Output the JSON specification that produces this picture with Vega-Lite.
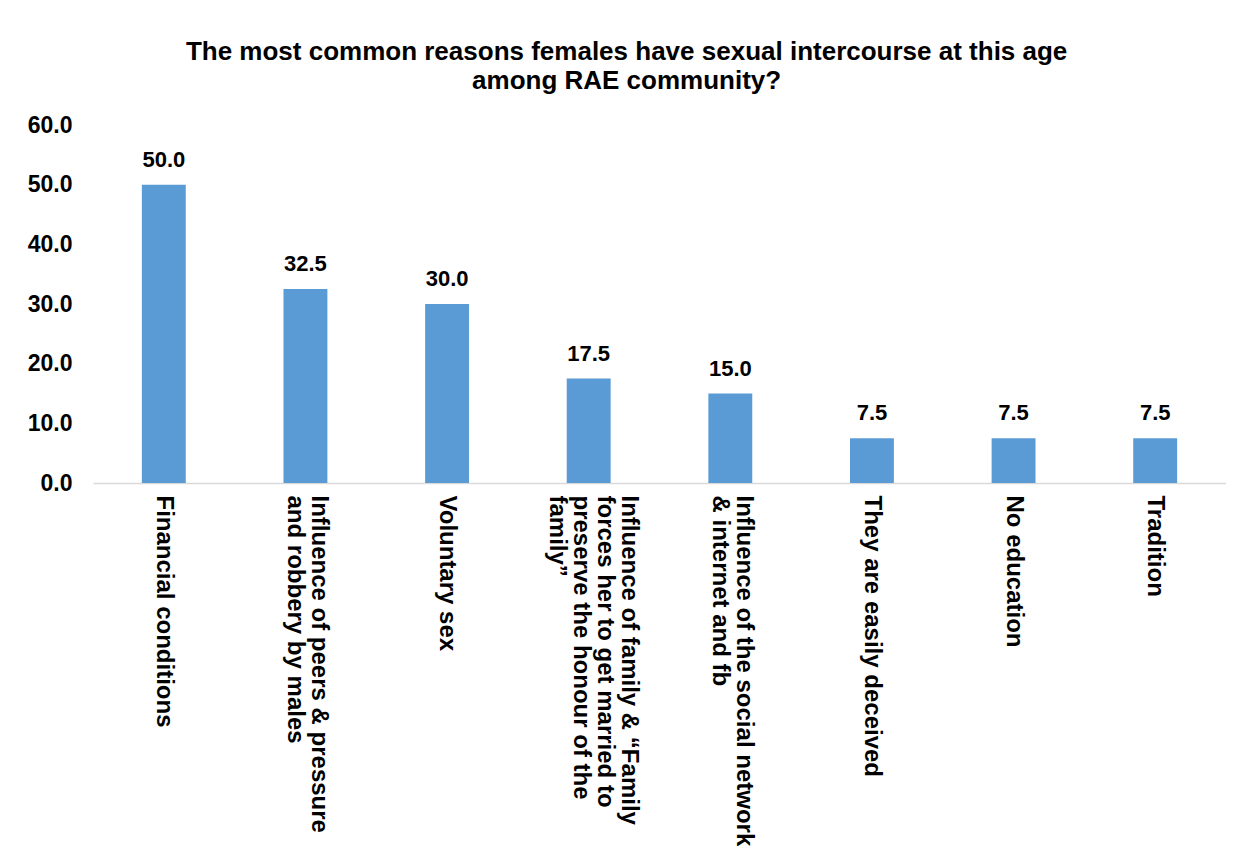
{
  "$schema": "https://vega.github.io/schema/vega-lite/v6.json",
  "width": 1133,
  "height": 358,
  "padding": {"left": 27, "top": 39, "right": 0, "bottom": 0},
  "background": "white",
  "title": {
    "text": ["The most common reasons females have sexual intercourse at this age", "among RAE community?"],
    "font": "Liberation Sans",
    "fontSize": 26,
    "fontWeight": "bold",
    "color": "#000000",
    "lineHeight": 29,
    "anchor": "middle",
    "frame": "bounds",
    "offset": 20
  },
  "data": {
    "values": [
      {"reason": "Financial conditions", "pct": 50.0},
      {"reason": "Influence of peers & pressure|and robbery by males", "pct": 32.5},
      {"reason": "Voluntary sex", "pct": 30.0},
      {"reason": "Influence of family & “Family|forces her to get married to|preserve the honour of the|family”", "pct": 17.5},
      {"reason": "Influence of the social network|& internet and fb", "pct": 15.0},
      {"reason": "They are easily deceived", "pct": 7.5},
      {"reason": "No education", "pct": 7.5},
      {"reason": "Tradition", "pct": 7.5}
    ]
  },
  "encoding": {
    "x": {
      "field": "reason",
      "type": "nominal",
      "sort": null,
      "scale": {"paddingInner": 0.69, "paddingOuter": 0.345},
      "axis": {
        "title": null,
        "labelAngle": 90,
        "labelExpr": "split(datum.label, '|')",
        "labelLimit": 0,
        "labelFont": "Liberation Sans",
        "labelFontSize": 24,
        "labelFontWeight": "bold",
        "labelColor": "#000000",
        "labelLineHeight": 24,
        "labelPadding": 12,
        "labelOffset": {
          "condition": [
            {"test": "length(split(datum.value, '|')) == 4", "value": 40},
            {"test": "length(split(datum.value, '|')) == 2", "value": 14}
          ],
          "value": 0
        },
        "ticks": false,
        "domainColor": "#d9d9d9",
        "domainWidth": 1.5,
        "grid": false
      }
    },
    "y": {
      "field": "pct",
      "type": "quantitative",
      "scale": {"domain": [0, 60]},
      "axis": {
        "title": null,
        "values": [0, 10, 20, 30, 40, 50, 60],
        "format": ".1f",
        "domain": false,
        "ticks": false,
        "grid": false,
        "labelFont": "Liberation Sans",
        "labelFontSize": 23,
        "labelFontWeight": "bold",
        "labelColor": "#000000",
        "labelPadding": 21
      }
    }
  },
  "layer": [
    {"mark": {"type": "bar", "color": "#5B9BD5"}},
    {
      "mark": {"type": "text", "dy": -13, "baseline": "bottom", "font": "Liberation Sans", "fontSize": 22, "fontWeight": "bold", "color": "#000000"},
      "encoding": {"text": {"field": "pct", "type": "quantitative", "format": ".1f"}}
    }
  ],
  "config": {"view": {"stroke": null}}
}
